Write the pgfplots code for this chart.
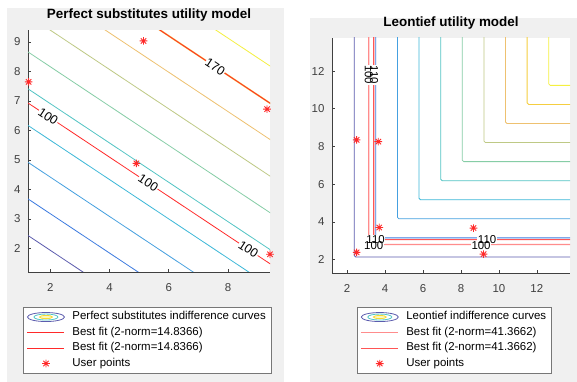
\documentclass[border=0pt]{standalone}
\usepackage{fontspec}
\setmainfont{Liberation Sans}
\usepackage{pgfplots}
\pgfplotsset{compat=1.18}

\definecolor{figgray}{HTML}{F0F0F0}
\definecolor{axgray}{HTML}{404040}
\definecolor{leggray}{HTML}{777777}
\definecolor{ca}{HTML}{5C5CAE}
\definecolor{cb}{HTML}{3D7BE0}
\definecolor{cc}{HTML}{45A0E0}
\definecolor{cd}{HTML}{3CB8D8}
\definecolor{ce}{HTML}{52C4C4}
\definecolor{cf}{HTML}{86CDA6}
\definecolor{cg}{HTML}{BEC985}
\definecolor{ch}{HTML}{EEC170}
\definecolor{ci}{HTML}{F5C040}
\definecolor{cj}{HTML}{F5F040}
\definecolor{fitred}{HTML}{FF2A2A}
\definecolor{fitpink}{HTML}{FF8C8C}
\definecolor{lightyel}{HTML}{FAF8C0}

\pgfdeclareplotmark{star8}{%
  \pgfpathmoveto{\pgfpoint{-\pgfplotmarksize}{0pt}}\pgfpathlineto{\pgfpoint{\pgfplotmarksize}{0pt}}%
  \pgfpathmoveto{\pgfpoint{0pt}{-\pgfplotmarksize}}\pgfpathlineto{\pgfpoint{0pt}{\pgfplotmarksize}}%
  \pgfpathmoveto{\pgfpoint{-0.707\pgfplotmarksize}{-0.707\pgfplotmarksize}}\pgfpathlineto{\pgfpoint{0.707\pgfplotmarksize}{0.707\pgfplotmarksize}}%
  \pgfpathmoveto{\pgfpoint{-0.707\pgfplotmarksize}{0.707\pgfplotmarksize}}\pgfpathlineto{\pgfpoint{0.707\pgfplotmarksize}{-0.707\pgfplotmarksize}}%
  \pgfusepathqstroke}

\pgfplotsset{
  mlstyle/.style={
    scale only axis,
    axis x line*=bottom, axis y line*=left,
    axis line style={-, axgray, line width=0.6bp},
    every outer x axis line/.append style={-},
    every outer y axis line/.append style={-},
    tick style={axgray, line width=0.6bp},
    tick align=inside,
    major tick length=3bp,
    /pgf/number format/assume math mode=true,
    ticklabel style={font=\fontsize{11.5}{12}\selectfont, text=axgray},
    xticklabel style={anchor=north, yshift=-8bp},
    yticklabel style={anchor=east, xshift=-4bp},
    axis background/.style={fill=white},
    title style={at={(0.5,1)}, anchor=base, yshift=5.2bp, inner sep=0pt, font=\bfseries\fontsize{13.5}{14}\selectfont},
    legend cell align=left,
    legend style={anchor=north west, draw=leggray, line width=0.6bp, fill=white,
      font=\fontsize{11.5}{13}\selectfont, inner xsep=3bp, inner ysep=2bp, row sep=0pt,
      nodes={inner xsep=2bp, inner ysep=2bp, text height=8.3bp, text depth=3.2bp}},
    every axis plot/.append style={line width=0.8bp},
    linelegend/.style={legend image code/.code={\draw[##1] (1bp,0bp) -- (38bp,0bp); \path[draw=none,fill=none] (0bp,0bp) -- (44bp,0bp);}},
    contourlegend/.style={legend image code/.code={%
      \draw[ca, line width=0.8bp] (19.5bp,0bp) ellipse (18.5bp and 4.5bp);
      \draw[ce, line width=0.8bp] (19.5bp,0bp) ellipse (12bp and 3bp);
      \draw[cj!80!orange, fill=lightyel, line width=0.8bp] (19.5bp,0bp) ellipse (6.5bp and 1.6bp);
      \path[draw=none,fill=none] (0bp,0bp) -- (44bp,0bp);}},
    marklegend/.style={legend image code/.code={\draw[##1] plot coordinates {(19.5bp,0bp)}; \path[draw=none,fill=none] (0bp,0bp) -- (44bp,0bp);}},
  }
}

\begin{document}
\begin{tikzpicture}
\path[use as bounding box] (0,0) rectangle (577bp,382bp);
\fill[white] (0,0) rectangle (577bp,382bp);
\fill[figgray] (7bp,0bp) rectangle (284bp,374bp);
\fill[figgray] (310bp,0bp) rectangle (577bp,364bp);

% ---------------- Left: perfect substitutes ----------------
\begin{axis}[mlstyle,
  at={(28bp,110bp)}, anchor=south west, width=242bp, height=242bp,
  xmin=1.25, xmax=9.42, ymin=1.2, ymax=9.4,
  xtick={2,4,6,8}, ytick={2,3,4,5,6,7,8,9},
  title={Perfect substitutes utility model},
  legend style={at={(-0.02,-0.1446)}},
]
\addplot[ca, contourlegend] coordinates {(0,3.27) (14,-6.063)};
\addlegendentry{Perfect substitutes indifference curves}
\addplot[cb, forget plot] coordinates {(0,4.51) (14,-4.823)};
\addplot[cc, forget plot] coordinates {(0,5.75) (14,-3.583)};
\addplot[cd, forget plot] coordinates {(0,7.00) (14,-2.333)};
\addplot[ce, forget plot] coordinates {(0,8.24) (14,-1.093)};
\addplot[cf, forget plot] coordinates {(0,9.49) (14,0.157)};
\addplot[cg, forget plot] coordinates {(0,10.73) (14,1.397)};
\addplot[ch, forget plot] coordinates {(0,11.97) (14,2.637)};
\addplot[ci, line width=1.6bp, forget plot] coordinates {(0,13.20) (14,3.867)};
\addplot[cj, forget plot] coordinates {(0,14.46) (14,5.127)};
\addplot[fitred, linelegend] coordinates {(0,7.76) (14,-1.573)};
\addlegendentry{Best fit (2-norm=14.8366)}
\addplot[fitred, linelegend] coordinates {(0,13.20) (14,3.867)};
\addlegendentry{Best fit (2-norm=14.8366)}
\begin{scope}[every node/.style={font=\fontsize{12.5}{13}\selectfont, fill=white, inner sep=0.6bp, rotate=-33.6}]
\node at (axis cs:1.93,6.47) {100};
\node at (axis cs:5.31,4.22) {100};
\node at (axis cs:8.69,1.97) {100};
\node at (axis cs:7.57,8.15) {170};
\end{scope}
\addplot[only marks, mark=star8, mark size=3.8bp, color=fitred, mark options={line width=0.9bp}, marklegend]
  coordinates {(1.27,7.64) (5.15,9.03) (4.91,4.88) (9.32,6.72) (9.42,1.80)};
\addlegendentry{User points}
\end{axis}

% ---------------- Right: Leontief ----------------
\begin{axis}[mlstyle,
  at={(332bp,109bp)}, anchor=south west, width=238bp, height=235bp,
  xmin=1.2, xmax=13.75, ymin=1.3, ymax=13.75,
  xtick={2,4,6,8,10,12}, ytick={2,4,6,8,10,12},
  title={Leontief utility model},
  legend style={at={(0.105,-0.1447)}},
  every axis plot/.append style={rounded corners=1.5bp},
]
\addplot[ca, contourlegend] coordinates {(2.37,20) (2.37,2.15) (20,2.15)};
\addlegendentry{Leontief indifference curves}
\addplot[cb, forget plot] coordinates {(3.51,20) (3.51,3.16) (20,3.16)};
\addplot[cc, forget plot] coordinates {(4.65,20) (4.65,4.17) (20,4.17)};
\addplot[cd, forget plot] coordinates {(5.79,20) (5.79,5.18) (20,5.18)};
\addplot[ce, forget plot] coordinates {(6.93,20) (6.93,6.19) (20,6.19)};
\addplot[cf, forget plot] coordinates {(8.07,20) (8.07,7.20) (20,7.20)};
\addplot[cg, forget plot] coordinates {(9.21,20) (9.21,8.21) (20,8.21)};
\addplot[ch, forget plot] coordinates {(10.35,20) (10.35,9.22) (20,9.22)};
\addplot[ci!70!cj, forget plot] coordinates {(11.49,20) (11.49,10.23) (20,10.23)};
\addplot[cj, forget plot] coordinates {(12.63,20) (12.63,11.24) (20,11.24)};
\addplot[fitpink, line width=1.3bp, linelegend] coordinates {(3.14,20) (3.14,2.81) (20,2.81)};
\addlegendentry{Best fit (2-norm=41.3662)}
\addplot[fitred!80!white, line width=1.1bp, linelegend] coordinates {(3.40,20) (3.40,3.07) (20,3.07)};
\addlegendentry{Best fit (2-norm=41.3662)}
\begin{scope}[every node/.style={font=\fontsize{11.5}{12}\selectfont, inner sep=0.6bp}]
\node[fill=white, text=white, rotate=-90] at (axis cs:3.14,11.8) {100};
\node[fill=white, text=white, rotate=-90] at (axis cs:3.42,11.8) {110};
\node[rotate=-90] at (axis cs:3.14,11.8) {100};
\node[rotate=-90] at (axis cs:3.42,11.8) {110};
\node[fill=white, text=white] at (axis cs:3.50,3.08) {110};
\node[fill=white, text=white] at (axis cs:3.40,2.76) {100};
\node[fill=white, text=white] at (axis cs:9.38,3.08) {110};
\node[fill=white, text=white] at (axis cs:9.06,2.74) {100};
\node at (axis cs:3.50,3.08) {110};
\node at (axis cs:3.40,2.76) {100};
\node at (axis cs:9.38,3.08) {110};
\node at (axis cs:9.06,2.74) {100};
\end{scope}
\addplot[only marks, mark=star8, mark size=3.8bp, color=fitred, mark options={line width=0.9bp}, marklegend]
  coordinates {(2.50,8.35) (3.64,8.26) (3.69,3.71) (2.50,2.39) (8.66,3.68) (9.19,2.30)};
\addlegendentry{User points}
\end{axis}
\end{tikzpicture}
\end{document}
